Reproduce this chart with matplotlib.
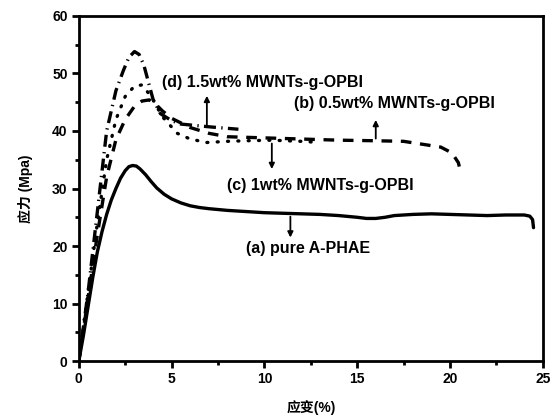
import matplotlib
matplotlib.use("Agg")
import matplotlib.pyplot as plt
from matplotlib.ticker import MultipleLocator

plt.rcParams['font.family'] = ['Liberation Sans', 'Noto Sans CJK SC', 'DejaVu Sans']

# (a) pure A-PHAE
strain_a = [0, 0.25, 0.5, 0.75, 1.0, 1.25, 1.5, 1.75, 2.0, 2.25, 2.5, 2.7, 2.9, 3.1, 3.3, 3.6,
            3.9, 4.2, 4.6, 5.0, 5.5, 6.0, 6.5, 7, 8, 9, 10, 11, 12, 13, 14, 15, 15.5, 16,
            16.5, 17, 18, 19, 20, 21, 22, 23, 24, 24.3, 24.45, 24.5]
stress_a = [0, 4.5, 9.5, 14.5, 19, 22.5, 25.5, 28, 30, 31.8, 33.1, 33.8, 34.0, 33.9, 33.4, 32.4,
            31.2, 30.1, 29, 28.2, 27.5, 27, 26.7, 26.5, 26.2, 26.0, 25.8, 25.7, 25.6, 25.5, 25.3, 25.0, 24.8, 24.8,
            25.0, 25.3, 25.5, 25.6, 25.5, 25.4, 25.3, 25.4, 25.4, 25.2, 24.6, 23.2]

# (b) 0.5wt% MWNTs-g-OPBI
strain_b = [0, 0.5, 1.0, 1.5, 2.0, 2.5, 3.0, 3.4, 3.8, 4.1, 4.5, 5, 6, 7, 8, 10, 12, 14, 16,
            17.5, 18.5, 19.5, 20.1, 20.45, 20.6]
stress_b = [0, 11, 22, 32, 38.5, 42, 44.3, 45.2, 45.4, 44.8, 43.5, 42.2, 40.6, 39.6, 39, 38.8, 38.6, 38.4, 38.3,
            38.2, 37.7, 37.2, 36.2, 34.5, 32.5]

# (c) 1wt% MWNTs-g-OPBI
strain_c = [0, 0.5, 1.0, 1.5, 2.0, 2.5, 3.0, 3.4, 3.9, 4.5, 5.3, 6.0, 6.9, 8, 9, 10.4, 12, 13]
stress_c = [0, 12, 24, 35, 42, 46, 47.8, 48, 46, 42.5, 39.6, 38.6, 38, 38.2, 38.3, 38.4, 38.2, 38]

# (d) 1.5wt% MWNTs-g-OPBI
strain_d = [0, 0.5, 1.0, 1.5, 2.0, 2.4, 2.7, 3.0, 3.25, 3.5, 3.75, 4.0, 4.4, 5.0, 5.5, 7.1, 8.6]
stress_d = [0, 12, 26, 40, 47, 50.5, 52.8, 53.8, 53.3, 51.5, 48.5, 45.5, 43, 41.8, 41.2, 40.7, 40.3]

fig = plt.figure(figsize=(5.55, 4.18), dpi=100)
ax = fig.add_axes([0.142, 0.136, 0.836, 0.826])

lw = 2.4
ax.plot(strain_a, stress_a, color='black', lw=lw, solid_capstyle='round', solid_joinstyle='round')
ax.plot(strain_b, stress_b, color='black', lw=lw, linestyle=(0, (3.2, 2.6)))
ax.plot(strain_c, stress_c, color='black', lw=lw, linestyle=(0, (0.3, 2.8)), dash_capstyle='round')
ax.plot(strain_d, stress_d, color='black', lw=lw, linestyle=(0, (3.6, 1.6, 0.4, 1.6)))

ax.set_xlim(0, 25)
ax.set_ylim(0, 60)
ax.xaxis.set_major_locator(MultipleLocator(5))
ax.xaxis.set_minor_locator(MultipleLocator(2.5))
ax.yaxis.set_major_locator(MultipleLocator(10))
ax.yaxis.set_minor_locator(MultipleLocator(5))
ax.tick_params(which='major', direction='out', length=5, width=2, labelsize=10, pad=3)
ax.tick_params(which='minor', direction='out', length=3, width=2)
for lab in ax.get_xticklabels() + ax.get_yticklabels():
    lab.set_fontweight('bold')
for sp in ax.spines.values():
    sp.set_linewidth(2)

ax.set_xlabel('应变(%)', fontsize=10, fontweight='bold', labelpad=10)
ax.set_ylabel('应力 (Mpa)', fontsize=10, fontweight='bold', labelpad=14)

arrow = dict(arrowstyle='-|>', color='black', lw=1.3, mutation_scale=8)
tfont = dict(fontsize=11.5, fontweight='bold', va='center')
ax.annotate('', xy=(6.9, 46.6), xytext=(6.9, 40.6), arrowprops=arrow)
ax.text(4.5, 48.5, '(d) 1.5wt% MWNTs-g-OPBI', **tfont)
ax.annotate('', xy=(16.0, 42.4), xytext=(16.0, 38.2), arrowprops=arrow)
ax.text(11.6, 44.8, '(b) 0.5wt% MWNTs-g-OPBI', **tfont)
ax.annotate('', xy=(10.4, 32.9), xytext=(10.4, 38.3), arrowprops=arrow)
ax.text(8.0, 30.6, '(c) 1wt% MWNTs-g-OPBI', **tfont)
ax.annotate('', xy=(11.4, 21.0), xytext=(11.4, 25.6), arrowprops=arrow)
ax.text(9.0, 19.5, '(a) pure A-PHAE', **tfont)

fig.savefig('out.png', dpi=100)
